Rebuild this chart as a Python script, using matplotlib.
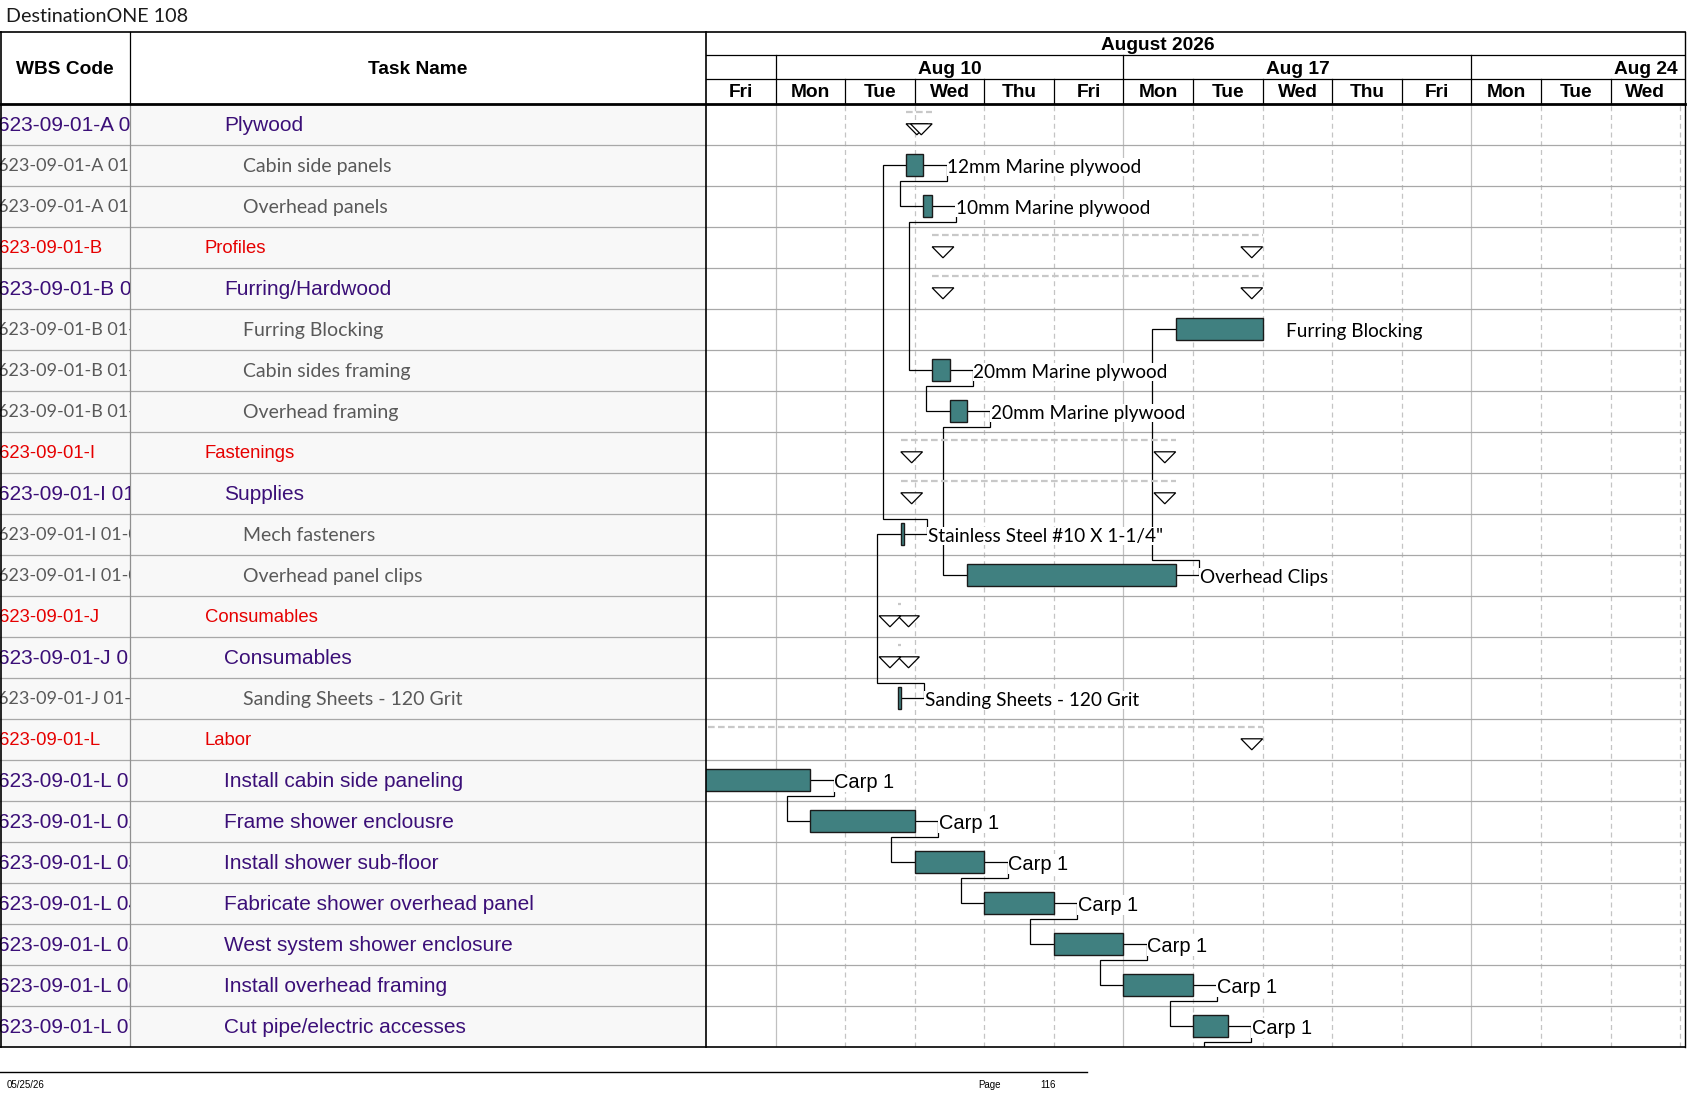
import matplotlib
matplotlib.use("Agg")
import matplotlib.pyplot as plt
from matplotlib.patches import Polygon, Rectangle

W, H = 1687, 1097
ARIAL = ['Liberation Sans', 'DejaVu Sans']
CALIBRI = ['Lato', 'DejaVu Sans']
plt.rcParams['font.family'] = ARIAL

#%% table data
wbs_codes = ["623-09-01-A 01", "623-09-01-A 01-01", "623-09-01-A 01-02",
             "623-09-01-B", "623-09-01-B 01", "623-09-01-B 01-01",
             "623-09-01-B 01-02", "623-09-01-B 01-03",
             "623-09-01-I", "623-09-01-I 01", "623-09-01-I 01-01", "623-09-01-I 01-02",
             "623-09-01-J", "623-09-01-J 01", "623-09-01-J 01-01",
             "623-09-01-L", "623-09-01-L 01", "623-09-01-L 02", "623-09-01-L 03",
             "623-09-01-L 04", "623-09-01-L 05", "623-09-01-L 06", "623-09-01-L 07"]
task_names = ["Plywood", "Cabin side panels", "Overhead panels",
              "Profiles", "Furring/Hardwood", "Furring Blocking",
              "Cabin sides framing", "Overhead framing",
              "Fastenings", "Supplies", "Mech fasteners", "Overhead panel clips",
              "Consumables", "Consumables", "Sanding Sheets - 120 Grit",
              "Labor", "Install cabin side paneling", "Frame shower enclousre",
              "Install shower sub-floor", "Fabricate shower overhead panel",
              "West system shower enclosure", "Install overhead framing",
              "Cut pipe/electric accesses"]
# g = group (red), s = summary/labor task (purple), m = material (gray)
row_kind = ["s", "m", "m", "g", "s", "m", "m", "m", "g", "s", "m", "m",
            "g", "s", "m", "g", "s", "s", "s", "s", "s", "s", "s"]

#%% bars (working days from start of Fri Aug 7)
bar_rows = [1, 2, 5, 6, 7, 10, 11, 14, 16, 17, 18, 19, 20, 21, 22]
bar_start = [2.875, 3.125, 6.75, 3.25, 3.5, 2.8, 3.75, 2.755,
             -0.5, 1.5, 3.0, 4.0, 5.0, 6.0, 7.0]
bar_finish = [3.125, 3.25, 8.0, 3.5, 3.75, 2.845, 6.75, 2.8,
              1.5, 3.0, 4.0, 5.0, 6.0, 7.0, 7.5]
bar_labels = ["12mm Marine plywood", "10mm Marine plywood", "Furring Blocking",
              "20mm Marine plywood", "20mm Marine plywood",
              'Stainless Steel #10 X 1-1/4"', "Overhead Clips",
              "Sanding Sheets - 120 Grit",
              "Carp 1", "Carp 1", "Carp 1", "Carp 1", "Carp 1", "Carp 1", "Carp 1"]

summary_rows = [0, 3, 4, 8, 9, 12, 13, 15]
summary_start = [2.875, 3.25, 3.25, 2.8, 2.8, 2.755, 2.755, -4.0]
summary_finish = [3.25, 8.0, 8.0, 6.75, 6.75, 2.8, 2.8, 8.0]

# finish-to-start links, by row
links = [(1, 2), (2, 6), (6, 7), (7, 11), (11, 5), (10, 1), (14, 10),
         (16, 17), (17, 18), (18, 19), (19, 20), (20, 21), (21, 22)]
next_page_start = 7.5   # successor of last row continues on next page

#%% timescale
day_names = ["Fri", "Mon", "Tue", "Wed", "Thu", "Fri", "Mon", "Tue",
             "Wed", "Thu", "Fri", "Mon", "Tue", "Wed"]
week_labels = ["Aug 10", "Aug 17", "Aug 24"]
week_start = [1, 6, 11]
month_label = "August 2026"
month_center = 6.5

#%% layout (pixels)
X_CHART, X_RIGHT, X_WBS = 706, 1685, 130
Y_TOP, Y_HEAD, ROW_H = 32, 104.3, 41
N = len(task_names)
Y_BOT = Y_HEAD + N * ROW_H
DAY_PX = 69.58
XMAX = (X_RIGHT - X_CHART) / DAY_PX
TXT_DY = 0.6 / ROW_H      # table text sits a hair below the row centre
LAB_DY = 2.3 / ROW_H      # bar labels relative to bar centre
HEAD_FS = 13.8

TEAL = '#408080'
PURPLE = '#3B0F78'
RED = '#E60000'
GRAY = '#595959'

styles = {"g": dict(color=RED, family=ARIAL, size=13.3, x=205, code_size=13.3),
          "s": dict(color=PURPLE, family=ARIAL, size=15.0, x=224, code_size=15.0),
          "m": dict(color=GRAY, family=CALIBRI, size=14.0, x=243, code_size=13.0)}


def fax(x0, y0, x1, y1):
    return [x0 / W, 1 - y1 / H, (x1 - x0) / W, (y1 - y0) / H]


fig = plt.figure(figsize=(W / 100, H / 100), dpi=100)

# ---- table body ----
tbl = fig.add_axes(fax(0, Y_HEAD, X_CHART, Y_BOT))
tbl.set_xlim(0, X_CHART)
tbl.set_ylim(N, 0)
tbl.axis('off')
tbl.add_patch(Rectangle((0, 0), X_CHART, N, fc='#F8F8F8', ec='none', zorder=0))
for i in range(1, N):
    tbl.axhline(i, color='#A8A8A8', lw=0.9, zorder=1)
tbl.axvline(X_WBS, color='#909090', lw=0.9, zorder=1)
for i, (name, kind) in enumerate(zip(task_names, row_kind)):
    st = styles[kind]
    tbl.text(st['x'], i + 0.5 + TXT_DY, name, color=st['color'], family=st['family'],
             fontsize=st['size'], va='center', ha='left')

wbs = fig.add_axes(fax(0, Y_HEAD, X_WBS, Y_BOT))
wbs.set_xlim(0, X_WBS)
wbs.set_ylim(N, 0)
wbs.axis('off')
for i, (code, kind) in enumerate(zip(wbs_codes, row_kind)):
    st = styles[kind]
    wbs.text(-1.5, i + 0.5 + TXT_DY, code, color=st['color'], family=st['family'],
             fontsize=st['code_size'], va='center', ha='left', clip_on=True)

# ---- gantt body ----
ax = fig.add_axes(fax(X_CHART, Y_HEAD, X_RIGHT, Y_BOT))
ax.set_xlim(0, XMAX)
ax.set_ylim(N, 0)
ax.axis('off')
for d in range(1, int(XMAX) + 1):
    if d in week_start:
        ax.axvline(d, color='#C0C0C0', lw=0.9, zorder=1)
    else:
        ax.axvline(d, color='#C4C4C4', lw=0.9, ls=(0, (4, 3)), zorder=1)
for i in range(1, N):
    ax.axhline(i, color='#A8A8A8', lw=0.9, zorder=1)

bar_dy = -1.0 / ROW_H
bar_h = 22 / ROW_H
lead = 23.5 / DAY_PX
bar_of = {r: (s, f) for r, s, f in zip(bar_rows, bar_start, bar_finish)}

ax.barh([r + 0.5 + bar_dy for r in bar_rows],
        [f - s for s, f in zip(bar_start, bar_finish)], left=bar_start,
        height=bar_h, color=TEAL, edgecolor='#1A1A1A', lw=1.0, zorder=3)

for r, f, lab in zip(bar_rows, bar_finish, bar_labels):
    fam, fs = (CALIBRI, 13.7) if row_kind[r] == "m" else (ARIAL, 14.4)
    ax.text(f + lead + 0.005, r + 0.5 + bar_dy + LAB_DY, lab, family=fam, fontsize=fs,
            va='center', ha='left', color='black', zorder=5,
            bbox=dict(boxstyle='square,pad=0.03', fc='white', ec='none'))


def draw_link(p_row, s_row, s_start):
    p_end = bar_of[p_row][1]
    yp = p_row + 0.5 + bar_dy
    ys = s_row + 0.5 + bar_dy
    if s_row > p_row:
        yk = p_row + 1 - 5.5 / ROW_H
    else:
        yk = p_row + 4.5 / ROW_H
    x1 = p_end + lead
    x2 = s_start - lead
    ax.plot([p_end, x1, x1, x2, x2, s_start], [yp, yp, yk, yk, ys, ys],
            color='black', lw=0.9, zorder=2, solid_joinstyle='miter')


for p, s in links:
    draw_link(p, s, bar_of[s][0])
draw_link(22, 23, next_page_start)

tri_w = 21.7 / DAY_PX
tri_top = -1.0 / ROW_H
tri_bot = 10.0 / ROW_H
for r, s, f in zip(summary_rows, summary_start, summary_finish):
    ax.plot([s, f], [r + 8 / ROW_H, r + 8 / ROW_H], color='#C8C8C8', lw=1.6,
            ls=(0, (3, 1.5)), zorder=2)
    for x0 in (s, f - tri_w):
        ax.add_patch(Polygon([(x0, r + 0.5 + tri_top), (x0 + tri_w, r + 0.5 + tri_top),
                              (x0 + tri_w / 2, r + 0.5 + tri_bot)],
                             closed=True, fc='white', ec='black', lw=0.9, zorder=4))

# ---- timescale header ----
hx = fig.add_axes(fax(X_CHART, Y_TOP, X_RIGHT, Y_HEAD))
hx.set_xlim(0, XMAX)
hx.set_ylim(Y_HEAD, Y_TOP)
hx.axis('off')
hx.axhline(55, color='black', lw=0.9)
hx.axhline(79.3, color='black', lw=0.9)
hx.text(month_center, 45.5, month_label, ha='center', va='center',
        fontsize=HEAD_FS, fontweight='bold')
for lab, ws in zip(week_labels, week_start):
    hx.plot([ws, ws], [55, 79.3], color='black', lw=0.9)
    hx.text(ws + 2.5, 69, lab, ha='center', va='center', fontsize=HEAD_FS,
            fontweight='bold')
for d, name in enumerate(day_names):
    if d > 0:
        hx.plot([d, d], [79.3, Y_HEAD], color='black', lw=0.9)
    hx.text(d + 0.5, 92.5, name, ha='center', va='center', fontsize=HEAD_FS,
            fontweight='bold')

# ---- page frame, titles, footer ----
page = fig.add_axes([0, 0, 1, 1])
page.set_xlim(0, W)
page.set_ylim(H, 0)
page.axis('off')
page.text(6.5, 16, "DestinationONE 108", family=CALIBRI,
          fontsize=14.2, va='center', ha='left', color='#1A1A1A')
page.plot([0, X_RIGHT], [Y_TOP, Y_TOP], color='black', lw=1.2)
page.plot([0, X_RIGHT], [Y_HEAD, Y_HEAD], color='black', lw=2.0)
page.plot([0, X_RIGHT], [Y_BOT, Y_BOT], color='black', lw=1.2)
page.plot([0.6, 0.6], [Y_TOP, Y_BOT], color='black', lw=1.2)
page.plot([X_WBS, X_WBS], [Y_TOP, Y_HEAD], color='black', lw=0.9)
page.plot([X_CHART, X_CHART], [Y_TOP, Y_BOT], color='black', lw=1.2)
page.plot([X_RIGHT, X_RIGHT], [Y_TOP, Y_BOT], color='black', lw=1.0)
page.text(X_WBS / 2, 69, "WBS Code", ha='center', va='center', fontsize=HEAD_FS,
          fontweight='bold')
page.text((X_WBS + X_CHART) / 2, 69, "Task Name", ha='center', va='center',
          fontsize=HEAD_FS, fontweight='bold')
page.plot([0, 1087], [1071.5, 1071.5], color='black', lw=1.0)
page.text(6.5, 1085, "05/25/26", fontsize=7, va='center', ha='left')
page.text(977.8, 1085, "Page", fontsize=7, va='center', ha='left')
page.text(1040.8, 1085, "116", fontsize=7, va='center', ha='left')

fig.savefig("out.png", dpi=100)
